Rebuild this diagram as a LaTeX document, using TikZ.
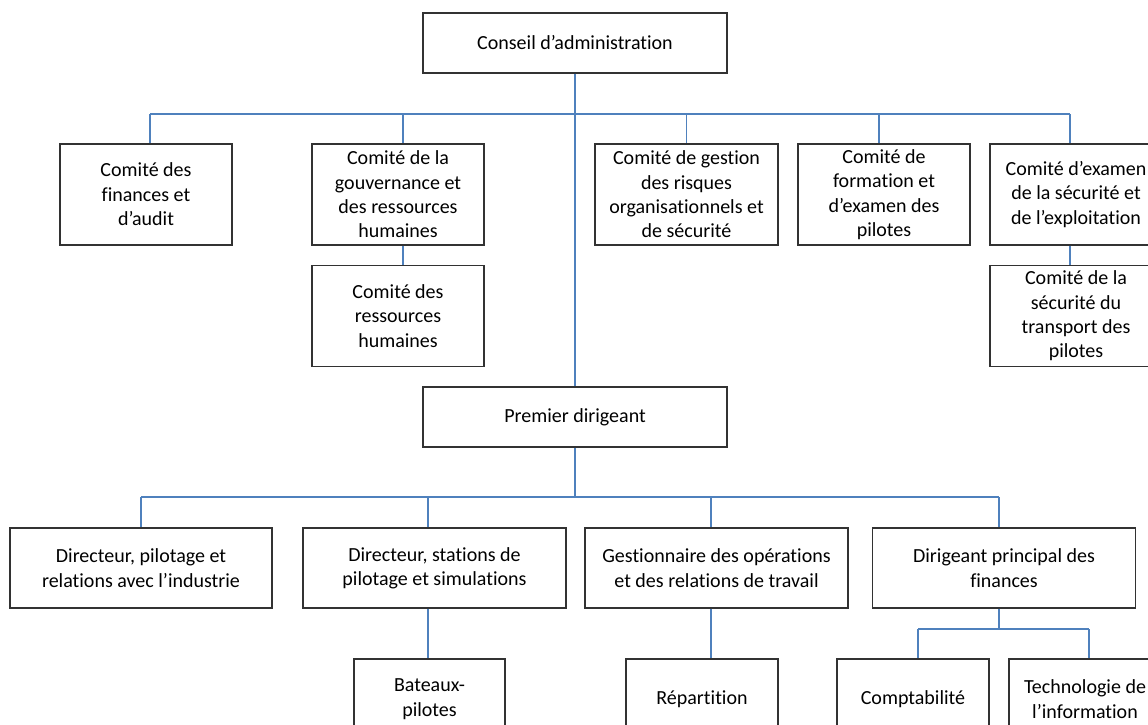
\documentclass[tikz,border=0pt]{standalone}
\usepackage{fontspec}
\setmainfont{Carlito}[Ligatures={NoCommon}]
\definecolor{connblue}{RGB}{79,129,189}
\definecolor{boxgray}{RGB}{50,50,50}
\begin{document}
\begin{tikzpicture}[x=1pt,y=-1pt,
  box/.style={draw=boxgray, line width=1.3pt, fill=white, align=center, inner sep=0pt,
    font=\fontsize{20}{24.4}\selectfont},
  conn/.style={draw=connblue, line width=1.2pt}]
\useasboundingbox (0,0) rectangle (1148,725);
\clip (0,0) rectangle (1148,725);
% top
\node[box, minimum width=304pt, minimum height=60pt] (ca) at (575,43) {Conseil d’administration};
% row 1
\node[box, minimum width=172pt, minimum height=101pt] (A) at (146,194.5) {Comité des\\finances et\\d’audit};
\node[box, minimum width=172pt, minimum height=101pt] (B) at (398,194.5) {Comité de la\\gouvernance et\\des ressources\\humaines};
\node[box, minimum width=183pt, minimum height=101pt] (C) at (686.5,194.5) {Comité de gestion\\des risques\\organisationnels et\\de sécurité};
\node[box, minimum width=172pt, minimum height=101pt] (D) at (884,194.5) {Comité de\\formation et\\d’examen des\\pilotes};
\node[box, minimum width=172pt, minimum height=101pt] (E) at (1076,194.5) {Comité d’examen\\de la sécurité et\\de l’exploitation};
% row 2
\node[box, minimum width=172pt, minimum height=101pt] (B2) at (398,316) {Comité des\\ressources\\humaines};
\node[box, minimum width=172pt, minimum height=101pt] (E2) at (1076,316) {Comité de la\\sécurité du\\transport des\\pilotes};
% premier dirigeant
\node[box, minimum width=304pt, minimum height=60pt] (pd) at (575,417) {Premier dirigeant};
% row 3
\node[box, minimum width=262pt, minimum height=80pt] (R1) at (141,568) {Directeur, pilotage et\\relations avec l’industrie};
\node[box, minimum width=263pt, minimum height=80pt] (R2) at (434.5,568) {Directeur, stations de\\pilotage et simulations};
\node[box, minimum width=263pt, minimum height=80pt] (R3) at (716.5,568) {Gestionnaire des opérations\\et des relations de travail};
\node[box, minimum width=263pt, minimum height=80pt] (R4) at (1004,568) {Dirigeant principal des\\finances};
% row 4
\node[box, minimum width=151pt, minimum height=80pt] (Bat) at (429.5,699) {Bateaux-\\pilotes};
\node[box, minimum width=152pt, minimum height=80pt] (Rep) at (702,699) {Répartition};
\node[box, minimum width=152pt, minimum height=80pt] (Comp) at (913,699) {Comptabilité};
\node[box, minimum width=152pt, minimum height=80pt] (Tech) at (1085,699) {Technologie de\\l’information};
% bus coordinates
\coordinate (b1a) at (150,114);
\coordinate (b1b) at (403,114);
\coordinate (b1c) at (686.5,114);
\coordinate (b1d) at (879,114);
\coordinate (b1e) at (1070,114);
\coordinate (b2a) at (141,497);
\coordinate (b2b) at (428,497);
\coordinate (b2c) at (711,497);
\coordinate (b2d) at (999,497);
\coordinate (b3a) at (918,629);
\coordinate (b3b) at (1089,629);
\coordinate (b3m) at (999,629);
% connectors
\draw[conn] (ca.south) -- (pd.north);
\draw[conn] (b1a) -- (b1e);
\draw[conn] (b1a) -- (b1a |- A.north);
\draw[conn] (b1b) -- (b1b |- B.north);
\draw[conn] (b1c) -- (b1c |- C.north);
\draw[conn] (b1d) -- (b1d |- D.north);
\draw[conn] (b1e) -- (b1e |- E.north);
\draw[conn] (b1b |- B.south) -- (b1b |- B2.north);
\draw[conn] (b1e |- E.south) -- (b1e |- E2.north);
\draw[conn] (pd.south) -- (pd.south |- b2a);
\draw[conn] (b2a) -- (b2d);
\draw[conn] (b2a) -- (b2a |- R1.north);
\draw[conn] (b2b) -- (b2b |- R2.north);
\draw[conn] (b2c) -- (b2c |- R3.north);
\draw[conn] (b2d) -- (b2d |- R4.north);
\draw[conn] (b2b |- R2.south) -- (b2b |- Bat.north);
\draw[conn] (b2c |- R3.south) -- (b2c |- Rep.north);
\draw[conn] (b3m |- R4.south) -- (b3m);
\draw[conn] (b3a) -- (b3b);
\draw[conn] (b3a) -- (b3a |- Comp.north);
\draw[conn] (b3b) -- (b3b |- Tech.north);
\end{tikzpicture}
\end{document}
